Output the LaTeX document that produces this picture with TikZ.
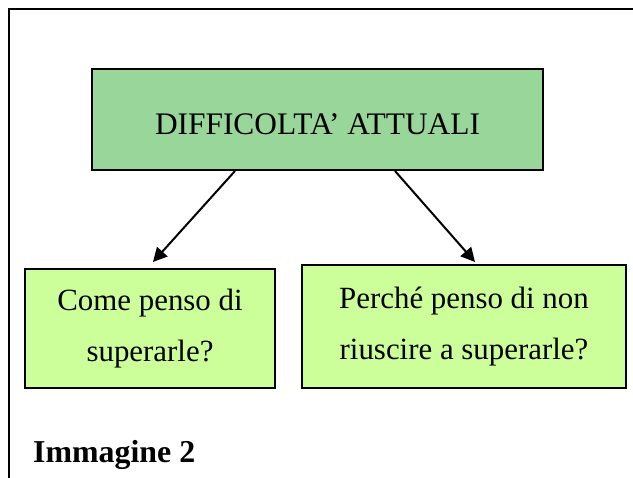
\documentclass[tikz,border=0pt]{standalone}
\usepackage{fontspec}
\setmainfont{Liberation Serif}
\usetikzlibrary{arrows.meta}

\definecolor{titlegreen}{RGB}{153,214,153}
\definecolor{answergreen}{RGB}{204,255,153}

\newcommand*{\xMax}{633}
\newcommand*{\yMax}{478}

\tikzset{
    titlebox/.style={draw,line width=2bp,fill=titlegreen,inner sep=0pt,
        minimum width=451bp,minimum height=101bp,text height=31bp,text depth=0bp,
        font=\fontsize{31.5}{38}\selectfont},
    answerbox/.style={draw,line width=2bp,fill=answergreen,inner sep=0pt,
        align=center,font=\fontsize{31}{52}\selectfont},
    arrow/.style={line width=2bp,-{Triangle[length=14bp,width=14bp]}}
}

\begin{document}
\begin{tikzpicture}[x=1bp,y=-1bp]
    \useasboundingbox (0,0) rectangle (\xMax,\yMax);

%   frame
    \draw [line width=2.5bp] (9,\yMax) -- (9,9) -- (\xMax,9);

    \node [titlebox] (diff) at (317.5,119.5) {DIFFICOLTA' ATTUALI};

    \node [answerbox,minimum width=250bp,minimum height=119bp] (come) at (150,328.5)
        {Come penso di\\superarle?};
    \node [answerbox,minimum width=324bp,minimum height=123bp] (perche) at (464,326.5)
        {Perché penso di non\\riuscire a superarle?};

    \coordinate (comeTip) at (153,262);
    \coordinate (percheTip) at (475,262);

    \draw [arrow] ([xshift=-82.5bp]diff.south) -- (comeTip);
    \draw [arrow] ([xshift=77.5bp]diff.south) -- (percheTip);

    \node [anchor=base west,inner sep=0pt,font=\bfseries\fontsize{32}{38}\selectfont]
        (caption) at (33,462) {Immagine 2};

\end{tikzpicture}
\end{document}
